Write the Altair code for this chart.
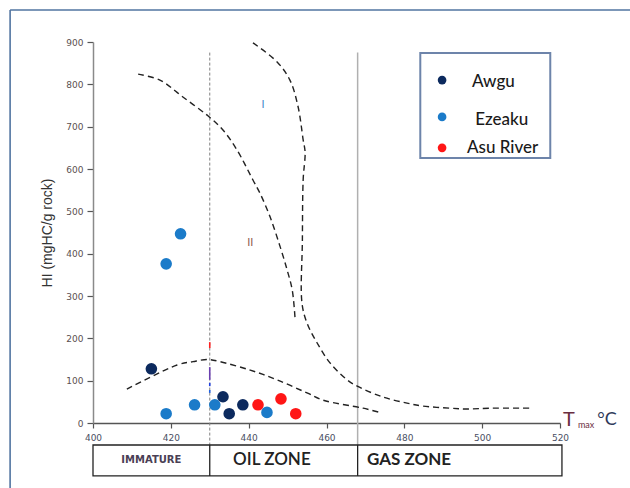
import altair as alt
import pandas as pd

# --- Rock-Eval samples: Tmax (°C) and hydrogen index (mgHC/g rock) ---
awgu_tmax = [415, 433.4, 435, 438.5]
awgu_hi = [128, 62, 22, 43]
ezeaku_tmax = [418.8, 422.5, 418.8, 426.1, 431.3, 444.7]
ezeaku_hi = [376, 447, 22, 43, 43, 25]
asu_tmax = [442.4, 448.3, 452.1]
asu_hi = [43, 57, 22]

series_names = ["Awgu", "Ezeaku", "Asu River"]
series_colors = ["#0c2a5e", "#1b7bc9", "#ff1616"]

# --- Kerogen type boundary curves (Tmax, HI) ---
curve_i_tmax = [441.1, 447.3, 450.6, 452.7, 454.0, 454.5, 454.0, 453.8, 453.7,
                455.0, 457.6, 460.9, 465.3, 467.9, 474.6, 480.7, 484.8, 491.8,
                496.1, 502.1, 513.1]
curve_i_hi = [898, 853, 810, 747, 669, 640, 574, 430, 283,
              236, 189, 142, 102, 87, 61, 47, 40, 35,
              33, 35, 35]
curve_ii_tmax = [411.6, 417.2, 423.1, 429.6, 433.4, 437.0, 441.1, 442.9, 445.5,
                 448.1, 449.9, 451.2, 451.9]
curve_ii_hi = [824, 810, 770, 725, 692, 645, 574, 543, 487,
               416, 361, 314, 250]
curve_iii_tmax = [408.7, 421.6, 425.7, 429.6, 432.6, 440.4, 447.3, 455.0, 459.1,
                  469.4, 473.3]
curve_iii_hi = [80, 137, 145, 150, 145, 125, 102, 71, 54,
                35, 26]

# --- Short coloured strokes sitting on the 430 °C boundary ---
stroke_hi_from = [177, 102, 87, 71]
stroke_hi_to = [191, 132, 95, 78]
stroke_colors = ["#ff2020", "#6a3fb0", "#2040e0", "#2060e0"]

# --- Axis ticks and maturity zones ---
x_ticks = [400, 420, 440, 460, 480, 500, 520]
y_ticks = [0, 100, 200, 300, 400, 500, 600, 700, 800, 900]
zone_names = ["IMMATURE", "OIL ZONE", "GAS ZONE"]
zone_edges = [400, 430, 468, 520.5]

# --- Build tables ---
points = pd.concat([
    pd.DataFrame({"x": asu_tmax, "y": asu_hi, "series": "Asu River", "o": 0}),
    pd.DataFrame({"x": ezeaku_tmax, "y": ezeaku_hi, "series": "Ezeaku", "o": 1}),
    pd.DataFrame({"x": awgu_tmax, "y": awgu_hi, "series": "Awgu", "o": 2}),
], ignore_index=True)

curves = pd.concat([
    pd.DataFrame({"x": curve_i_tmax, "y": curve_i_hi, "curve": "I",
                  "k": range(len(curve_i_tmax))}),
    pd.DataFrame({"x": curve_ii_tmax, "y": curve_ii_hi, "curve": "II",
                  "k": range(len(curve_ii_tmax))}),
    pd.DataFrame({"x": curve_iii_tmax, "y": curve_iii_hi, "curve": "III",
                  "k": range(len(curve_iii_tmax))}),
], ignore_index=True)

xs = alt.Scale(domain=[400, 520], nice=False, zero=False)
ys = alt.Scale(domain=[0, 900], nice=False, zero=False)
color_scale = alt.Scale(domain=series_names, range=series_colors)

x_axis = alt.Axis(
    values=x_ticks, format="d", title=None, grid=False,
    labelFlush=False, labelOverlap=False,
    domainColor="#555", domainWidth=1.5, tickColor="#555", tickWidth=1.2,
    tickSize=5, labelPadding=5, labelFont="DejaVu Sans", labelFontSize=9,
    labelColor="#4a4f63")
y_axis = alt.Axis(
    values=y_ticks, format="d", title="HI (mgHC/g rock)", grid=False,
    domainColor="#8a8a8a", domainWidth=1.5, tickColor="#555", tickWidth=1.2,
    tickSize=6, labelPadding=4, labelFont="DejaVu Sans", labelFontSize=9,
    labelColor="#5a5050", titleFont="Liberation Sans", titleFontSize=14,
    titleFontWeight="normal", titleColor="#333", titlePadding=11)


def X(f="x"):
    return alt.X(f"{f}:Q", scale=xs, axis=x_axis)


def Y(f="y"):
    return alt.Y(f"{f}:Q", scale=ys, axis=y_axis)


# Outer frame (left and top edges)
frame = pd.DataFrame({"x": [378.7, 378.7], "x2": [378.7, 545],
                      "y": [975.7, 975.7], "y2": [-170, 975.7]})
frame_layer = alt.Chart(frame).mark_rule(color="#5174a0", strokeWidth=1.6).encode(
    x=X(), x2="x2:Q", y=Y(), y2="y2:Q")

# Maturity boundaries
guide_430 = alt.Chart(pd.DataFrame({"x": [zone_edges[1]], "y": [875], "y2": [-52]})).mark_rule(
    color="#808080", strokeWidth=1, strokeDash=[3, 2]).encode(x=X(), y=Y(), y2="y2:Q")
guide_468 = alt.Chart(pd.DataFrame({"x": [zone_edges[2]], "y": [875], "y2": [-52]})).mark_rule(
    color="#b0b0b0", strokeWidth=1.5).encode(x=X(), y=Y(), y2="y2:Q")

boundary_strokes = alt.Chart(pd.DataFrame({
    "x": [zone_edges[1]] * len(stroke_colors), "y": stroke_hi_from,
    "y2": stroke_hi_to, "c": stroke_colors})).mark_rule(strokeWidth=1.6).encode(
    x=X(), y=Y(), y2="y2:Q", color=alt.Color("c:N", scale=None))

# Zone table under the axis
table = pd.DataFrame({"x": [zone_edges[0]], "x2": [zone_edges[-1]],
                      "y": [-52], "y2": [-125]})
table_box = alt.Chart(table).mark_rect(fill="white", stroke="#222", strokeWidth=1.3).encode(
    x=X(), x2="x2:Q", y=Y(), y2="y2:Q")
dividers = alt.Chart(pd.DataFrame({"x": zone_edges[1:3], "y": [-52, -52],
                                   "y2": [-125, -125]})).mark_rule(
    color="#222", strokeWidth=1.3).encode(x=X(), y=Y(), y2="y2:Q")

imm_text = alt.Chart(pd.DataFrame({"x": [415], "y": [-88], "t": [zone_names[0]]})).mark_text(
    font="DejaVu Sans", fontSize=10, fontWeight="bold", color="#4a4055",
    align="center", baseline="middle").encode(x=X(), y=Y(), text="t:N")
oil_text = alt.Chart(pd.DataFrame({"x": [436.0], "y": [-88], "t": [zone_names[1]]})).mark_text(
    font="Lato", fontSize=17, fontWeight=600, color="#222", align="left",
    baseline="middle").encode(x=X(), y=Y(), text="t:N")
gas_text = alt.Chart(pd.DataFrame({"x": [470.4], "y": [-88], "t": [zone_names[2]]})).mark_text(
    font="Lato", fontSize=17, fontWeight="bold", color="#222", align="left",
    baseline="middle").encode(x=X(), y=Y(), text="t:N")

# Kerogen boundary curves
curve_layer = alt.Chart(curves).mark_line(
    color="#222", strokeWidth=1.4, strokeDash=[6, 4], interpolate="catmull-rom").encode(
    x=X(), y=Y(), detail="curve:N", order="k:Q")

region_labels = alt.Chart(pd.DataFrame({"x": [443.7, 440.4], "y": [751, 425],
                                        "t": ["I", "II"],
                                        "c": ["#3f86c8", "#8b5a4a"]})).mark_text(
    font="Liberation Sans", fontSize=11, baseline="middle").encode(
    x=X(), y=Y(), text="t:N", color=alt.Color("c:N", scale=None))

# Sample points
point_layer = alt.Chart(points).mark_circle(size=135, opacity=1).encode(
    x=X(), y=Y(),
    color=alt.Color("series:N", scale=color_scale, legend=None),
    order="o:Q")

# Axis title for temperature
tmax_title = alt.Chart(pd.DataFrame({"x": [520.8, 524.6, 529.6], "y": [7, -4, 7],
                                     "t": ["T", "max", "°C"],
                                     "s": [20, 9, 18],
                                     "c": ["#6a2e40", "#6a2e40", "#2f3a5a"]})).mark_text(
    font="Lato", align="left", baseline="middle").encode(
    x=X(), y=Y(), text="t:N",
    size=alt.Size("s:Q", scale=None),
    color=alt.Color("c:N", scale=None))

# Legend box
legend_box = alt.Chart(pd.DataFrame({"x": [484.1], "x2": [517.5], "y": [874], "y2": [626]})).mark_rect(
    fill="white", stroke="#6d84aa", strokeWidth=2).encode(x=X(), x2="x2:Q", y=Y(), y2="y2:Q")
legend_items = pd.DataFrame({"series": series_names,
                             "dx": [489.7, 489.7, 489.7], "dy": [810, 723, 650],
                             "tx": [497.4, 498.2, 496.1], "ty": [806, 716, 650]})
legend_dots = alt.Chart(legend_items).mark_circle(size=75, opacity=1).encode(
    x=X("dx"), y=Y("dy"), color=alt.Color("series:N", scale=color_scale, legend=None))
legend_text = alt.Chart(legend_items).mark_text(
    font="Lato", fontSize=17, fontWeight=500, color="#1a1a1a", align="left",
    baseline="middle").encode(x=X("tx"), y=Y("ty"), text="series:N")

chart = alt.layer(
    frame_layer, guide_430, guide_468, boundary_strokes, table_box, dividers,
    imm_text, oil_text, gas_text,
    curve_layer, region_labels, point_layer, tmax_title,
    legend_box, legend_dots, legend_text,
).properties(
    width=467, height=381,
    background="white",
    autosize=alt.AutoSizeParams(type="none"),
    padding={"left": 93, "top": 42, "right": 70, "bottom": 65},
).configure_view(stroke=None)

chart.save("out.html", embed_options={"renderer": "svg", "actions": False})
